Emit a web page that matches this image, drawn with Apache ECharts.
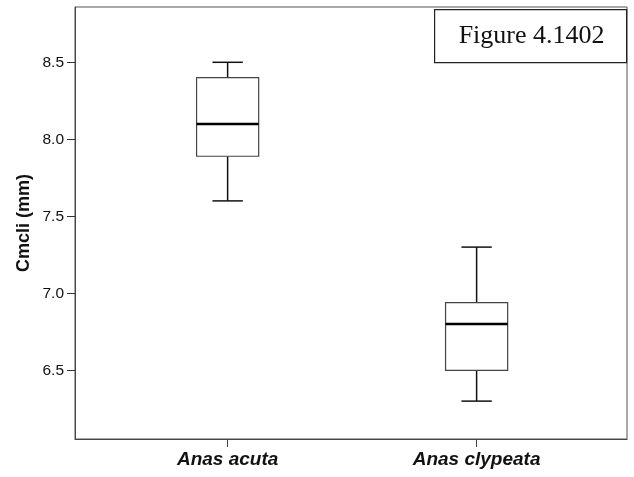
<!DOCTYPE html>
<html>
<head>
<meta charset="utf-8">
<script src="https://cdn.jsdelivr.net/npm/echarts@6/dist/echarts.min.js"></script>
<style>html,body{margin:0;padding:0;background:#fff}#c{width:634px;height:477px}</style>
</head>
<body>
<div id="c"></div>
<script>
var categories = ['Anas acuta', 'Anas clypeata'];
// [min, Q1, median, Q3, max]
var boxAcuta = [7.6, 7.89, 8.1, 8.4, 8.5];
var boxClypeata = [6.3, 6.5, 6.8, 6.94, 7.3];
var yTicks = [6.5, 7.0, 7.5, 8.0, 8.5];
var yTitle = 'Cmcli (mm)';
var figureLabel = 'Figure 4.1402';

var boxes = [boxAcuta, boxClypeata];
var data = boxes.map(function (b, i) { return [i + 1].concat(b); });

var chart = echarts.init(document.getElementById('c'));
chart.setOption({
  animation: false,
  grid: { left: 75, top: 7, right: 7, bottom: 38, show: true, borderColor: '#555', borderWidth: 1, backgroundColor: 'transparent' },
  xAxis: {
    type: 'value', min: 0.387, max: 2.604,
    splitLine: { show: false },
    axisLine: { show: true, onZero: false, lineStyle: { color: '#444', width: 1 } },
    axisTick: { show: true, customValues: [1, 2], length: 8, lineStyle: { color: '#444' } },
    axisLabel: {
      customValues: [1, 2], margin: 11,
      formatter: function (v) { return categories[Math.round(v) - 1] || ''; },
      fontFamily: 'Liberation Sans, Arial, sans-serif', fontSize: 19, fontWeight: 'bold', fontStyle: 'italic', color: '#111'
    }
  },
  yAxis: {
    type: 'value', min: 6.054, max: 8.859,
    name: yTitle, nameLocation: 'middle', nameGap: 42, nameRotate: 90, nameMoveOverlap: false,
    nameTextStyle: { fontFamily: 'Liberation Sans, Arial, sans-serif', fontSize: 18, fontWeight: 'bold', color: '#111' },
    splitLine: { show: false },
    axisLine: { show: true, onZero: false, lineStyle: { color: '#444', width: 1 } },
    axisTick: { show: true, customValues: yTicks, length: 8, lineStyle: { color: '#333' } },
    axisLabel: {
      customValues: yTicks, margin: 11,
      formatter: function (v) { return v.toFixed(1); },
      fontFamily: 'Liberation Sans, Arial, sans-serif', fontSize: 15.5, color: '#111'
    }
  },
  series: [{
    type: 'custom',
    data: data,
    encode: { x: 0, y: [1, 2, 3, 4, 5] },
    renderItem: function (params, api) {
      var x = api.value(0);
      var hw = api.size([0.1247, 0])[0];
      var cw = api.size([0.061, 0])[0];
      var pMin = api.coord([x, api.value(1)]);
      var pQ1 = api.coord([x, api.value(2)]);
      var pMed = api.coord([x, api.value(3)]);
      var pQ3 = api.coord([x, api.value(4)]);
      var pMax = api.coord([x, api.value(5)]);
      var cx = pMin[0];
      var wStyle = { stroke: '#111', lineWidth: 1.5 };
      return {
        type: 'group',
        children: [
          { type: 'line', shape: { x1: cx, y1: pMax[1], x2: cx, y2: pQ3[1] }, style: wStyle },
          { type: 'line', shape: { x1: cx, y1: pQ1[1], x2: cx, y2: pMin[1] }, style: wStyle },
          { type: 'line', shape: { x1: cx - cw, y1: pMax[1], x2: cx + cw, y2: pMax[1] }, style: wStyle },
          { type: 'line', shape: { x1: cx - cw, y1: pMin[1], x2: cx + cw, y2: pMin[1] }, style: wStyle },
          { type: 'rect', shape: { x: cx - hw, y: pQ3[1], width: 2 * hw, height: pQ1[1] - pQ3[1] }, style: { fill: '#fff', stroke: '#444', lineWidth: 1.2 } },
          { type: 'line', shape: { x1: cx - hw, y1: pMed[1], x2: cx + hw, y2: pMed[1] }, style: { stroke: '#000', lineWidth: 2.5 } }
        ]
      };
    }
  }],
  graphic: [{
    type: 'group', left: 434, top: 9,
    children: [
      { type: 'rect', shape: { x: 0, y: 0, width: 192, height: 53 }, style: { fill: '#fff', stroke: '#222', lineWidth: 1.2 } },
      { type: 'text', x: 97, y: 27, style: { text: figureLabel, font: '26px "Liberation Serif", "Times New Roman", serif', fill: '#111', align: 'center', verticalAlign: 'middle' } }
    ]
  }]
});
</script>
</body>
</html>
